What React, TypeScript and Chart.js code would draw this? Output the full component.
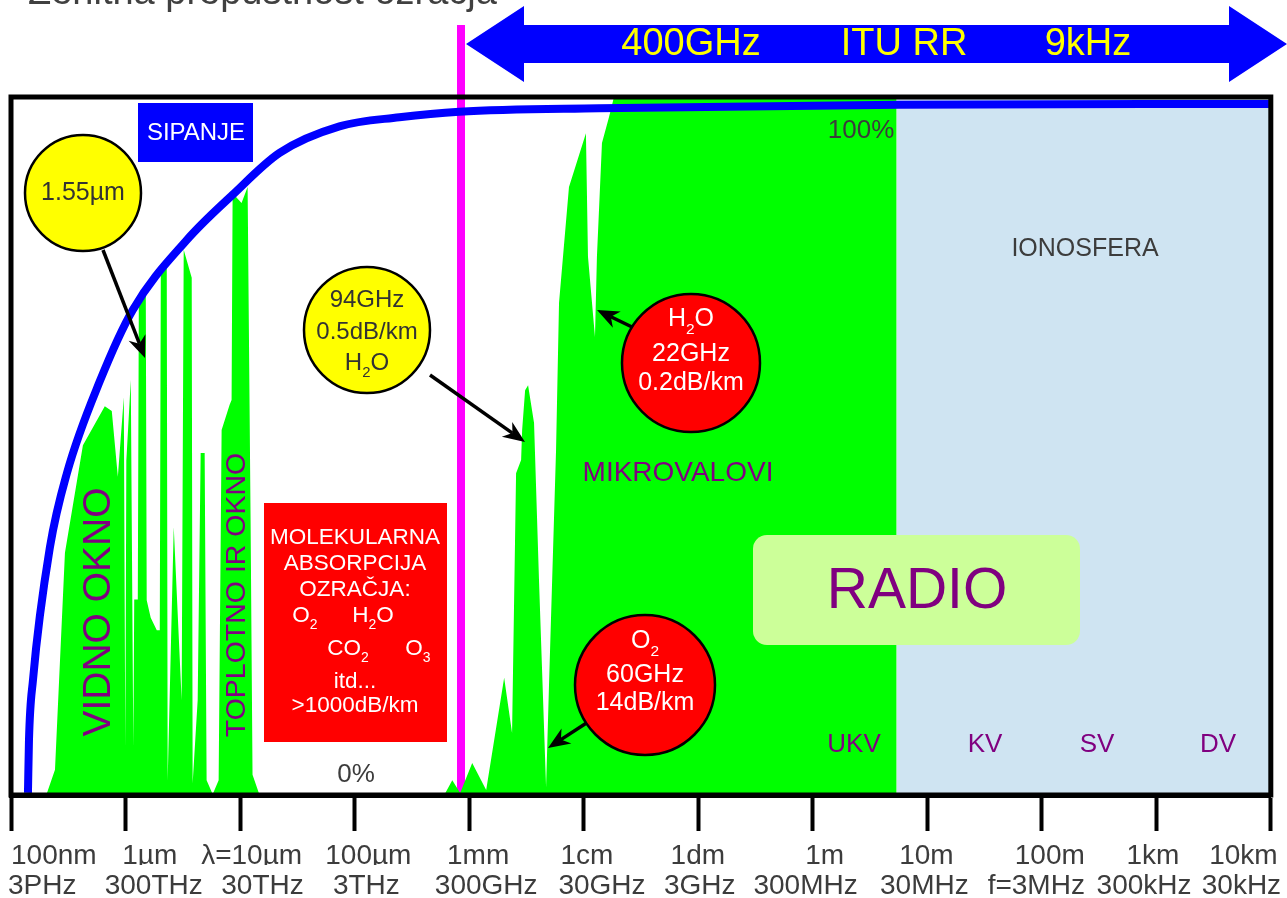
import React, { useEffect, useRef } from 'react';
import { Chart, registerables } from 'chart.js';

Chart.register(...registerables);

const FONT = '"Liberation Sans", Arial, Helvetica, sans-serif';
const PURPLE = '#800080';
const GRAY = '#3c3c3c';

// x axis: decades above 100 nm (0 = 100nm ... 11 = 10km); y axis: zenith transmission in %
const tickValues = [0, 1, 2, 3, 4, 5, 6, 7, 8, 9, 10, 11];
const wavelengthLabels = ['100nm', '1µm', 'λ=10µm', '100µm', '1mm', '1cm', '1dm', '1m', '10m', '100m', '1km', '10km'];
const wavelengthPos = [0, 1.212, 2.101, 3.12, 4.079, 5.029, 5.997, 7.104, 7.993, 9.07, 9.971, 11.06];
const frequencyLabels = ['3PHz', '300THz', '30THz', '3THz', '300GHz', '30GHz', '3GHz', '300MHz', '30MHz', 'f=3MHz', '300kHz', '30kHz'];
const frequencyPos = [-0.026, 1.246, 2.196, 3.103, 4.149, 5.16, 6.014, 6.938, 7.975, 8.952, 9.893, 11.09];

// atmospheric windows (green area)
const windowX = [
  0.253, 0.314, 0.384, 0.471, 0.628, 0.819, 0.880, 0.933,
  0.985, 0.998, 1.007, 1.046, 1.068, 1.076, 1.107, 1.116, 1.177, 1.185,
  1.220, 1.273, 1.299, 1.308, 1.360, 1.368, 1.421, 1.490,
  1.508, 1.578, 1.586, 1.630, 1.656, 1.691, 1.708, 1.761,
  1.813, 1.839, 1.909, 1.926, 1.935, 2.013, 2.066, 2.092,
  2.109, 2.170,
  3.783, 3.853, 3.922, 4.027, 4.149, 4.306, 4.375, 4.410,
  4.454, 4.463, 4.489, 4.515, 4.567, 4.611, 4.672, 4.698,
  4.759, 4.785, 4.872, 5.020, 5.038, 5.099, 5.116, 5.160,
  5.221, 5.265, 7.731, 7.731, 11,
];
const windowY = [
  0, 0.3, 3.6, 34.7, 50.1, 55.7, 55.0, 45.6,
  57.0, 6.9, 47.9, 59.5, 6.9, 28.0, 28.0, 70.5, 71.6, 27.9,
  25.4, 23.6, 23.6, 74.8, 76.2, 2.1, 38.4, 13.6,
  78.1, 74.1, 1.7, 13.6, 49.0, 49.0, 2.1, 0.1,
  2.1, 52.3, 55.9, 56.6, 86.2, 84.8, 87.1, 39.4,
  2.9, 0,
  0, 2.1, 0.3, 4.6, 0.7, 16.8, 8.9, 46.1,
  48.0, 52.3, 58.0, 58.7, 53.3, 30.4, 1.1, 16.0,
  49.4, 70.5, 87.1, 94.8, 77.1, 65.6, 77.1, 93.4,
  97.1, 100, 100, 0, 0,
];

// scattering curve (blue)
const scatterX = [0.148, 0.157, 0.192, 0.34, 0.488, 0.776, 1.063, 1.534, 1.935, 2.345, 2.868, 3.391, 3.914, 5.134, 7.749, 11];
const scatterY = [0.3, 7.9, 16.5, 35.5, 46.1, 59.3, 69.5, 79.5, 86.0, 92.0, 95.8, 97.1, 97.9, 98.4, 98.9, 99.0];

// ionosphere-reflected band
const ionoX = [7.731, 11];
const ionoY = [100, 100];

const toPts = (xs: number[], ys: number[]) => xs.map((x, i) => ({ x, y: ys[i] }));

function txt(ctx: CanvasRenderingContext2D, s: string, x: number, y: number, size: number, color: string, align: CanvasTextAlign = 'center') {
  ctx.font = `${size}px ${FONT}`;
  ctx.fillStyle = color;
  ctx.textAlign = align;
  ctx.textBaseline = 'middle';
  ctx.fillText(s, x, y);
}

// parts: [text, isSubscript]
function rich(ctx: CanvasRenderingContext2D, parts: [string, boolean][], cx: number, cy: number, size: number, color: string) {
  const sub = size * 0.62;
  let w = 0;
  for (const [t, s] of parts) {
    ctx.font = `${s ? sub : size}px ${FONT}`;
    w += ctx.measureText(t).width;
  }
  let x = cx - w / 2;
  ctx.fillStyle = color;
  ctx.textAlign = 'left';
  ctx.textBaseline = 'alphabetic';
  const base = cy + size * 0.36;
  for (const [t, s] of parts) {
    ctx.font = `${s ? sub : size}px ${FONT}`;
    ctx.fillText(t, x, s ? base + size * 0.3 : base);
    x += ctx.measureText(t).width;
  }
}

function circle(ctx: CanvasRenderingContext2D, x: number, y: number, r: number, fill: string) {
  ctx.beginPath();
  ctx.arc(x, y, r, 0, Math.PI * 2);
  ctx.fillStyle = fill;
  ctx.fill();
  ctx.lineWidth = 2.5;
  ctx.strokeStyle = '#000';
  ctx.stroke();
}

function arrow(ctx: CanvasRenderingContext2D, x1: number, y1: number, x2: number, y2: number) {
  const a = Math.atan2(y2 - y1, x2 - x1);
  const c = Math.cos(a), s = Math.sin(a);
  const hl = 22, hw = 9;
  const nx = x2 - hl * 0.7 * c, ny = y2 - hl * 0.7 * s;
  ctx.beginPath();
  ctx.moveTo(x1, y1);
  ctx.lineTo(nx, ny);
  ctx.lineWidth = 3.5;
  ctx.strokeStyle = '#000';
  ctx.stroke();
  const bx = x2 - hl * c, by = y2 - hl * s;
  ctx.beginPath();
  ctx.moveTo(x2, y2);
  ctx.lineTo(bx - hw * s, by + hw * c);
  ctx.lineTo(nx, ny);
  ctx.lineTo(bx + hw * s, by - hw * c);
  ctx.closePath();
  ctx.fillStyle = '#000';
  ctx.fill();
}

const deco = {
  id: 'deco',
  beforeDatasetsDraw(chart: any) {
    const ctx: CanvasRenderingContext2D = chart.ctx;
    const { bottom } = chart.chartArea;
    ctx.save();
    ctx.fillStyle = '#ff00ff';
    ctx.fillRect(457, 25, 8, bottom - 25);
    ctx.restore();
  },
  afterDatasetsDraw(chart: any) {
    const ctx: CanvasRenderingContext2D = chart.ctx;
    const { left, top, right, bottom } = chart.chartArea;
    ctx.save();

    // frame
    ctx.lineWidth = 5;
    ctx.strokeStyle = '#000';
    ctx.strokeRect(left, top, right - left, bottom - top);

    // title (cut off at top)
    ctx.font = `38px ${FONT}`;
    ctx.fillStyle = '#404040';
    ctx.textAlign = 'left';
    ctx.textBaseline = 'alphabetic';
    ctx.fillText('Zenitna prepustnost ozračja', 28, 4);

    // ITU RR double arrow
    ctx.beginPath();
    ctx.moveTo(466, 44);
    ctx.lineTo(524, 6);
    ctx.lineTo(524, 25);
    ctx.lineTo(1229, 25);
    ctx.lineTo(1229, 6);
    ctx.lineTo(1287, 44);
    ctx.lineTo(1229, 82);
    ctx.lineTo(1229, 63);
    ctx.lineTo(524, 63);
    ctx.lineTo(524, 82);
    ctx.closePath();
    ctx.fillStyle = '#0000ff';
    ctx.fill();
    txt(ctx, '400GHz', 691, 45, 38, '#ffff00');
    txt(ctx, 'ITU RR', 904, 45, 38, '#ffff00');
    txt(ctx, '9kHz', 1088, 45, 38, '#ffff00');

    // SIPANJE
    ctx.fillStyle = '#0000ff';
    ctx.fillRect(138, 103, 115, 59);
    txt(ctx, 'SIPANJE', 196, 133, 24, '#ffffff');

    // labels
    txt(ctx, '100%', 861, 131, 26, GRAY);
    txt(ctx, '0%', 356, 775, 26, GRAY);
    txt(ctx, 'IONOSFERA', 1085, 249, 25, GRAY);
    txt(ctx, 'MIKROVALOVI', 678, 473, 28, PURPLE);
    txt(ctx, 'UKV', 854, 745, 26, PURPLE);
    txt(ctx, 'KV', 985, 745, 26, PURPLE);
    txt(ctx, 'SV', 1097, 745, 26, PURPLE);
    txt(ctx, 'DV', 1218, 745, 26, PURPLE);

    // rotated labels
    ctx.save();
    ctx.translate(99, 612);
    ctx.rotate(-Math.PI / 2);
    txt(ctx, 'VIDNO OKNO', 0, 0, 39, PURPLE);
    ctx.restore();
    ctx.save();
    ctx.translate(237, 595);
    ctx.rotate(-Math.PI / 2);
    txt(ctx, 'TOPLOTNO IR OKNO', 0, 0, 28.5, PURPLE);
    ctx.restore();

    // RADIO box
    ctx.beginPath();
    (ctx as any).roundRect(753, 535, 327, 110, 14);
    ctx.fillStyle = '#ccff99';
    ctx.fill();
    txt(ctx, 'RADIO', 917, 592, 57, PURPLE);

    // molecular absorption box
    ctx.fillStyle = '#ff0000';
    ctx.fillRect(264, 503, 183, 239);
    txt(ctx, 'MOLEKULARNA', 355, 538, 22.5, '#ffffff');
    txt(ctx, 'ABSORPCIJA', 355, 564, 22.5, '#ffffff');
    txt(ctx, 'OZRAČJA:', 355, 590, 22.5, '#ffffff');
    rich(ctx, [['O', false], ['2', true]], 305, 614, 22.5, '#ffffff');
    rich(ctx, [['H', false], ['2', true], ['O', false]], 373, 614, 22.5, '#ffffff');
    rich(ctx, [['CO', false], ['2', true]], 348, 647, 22.5, '#ffffff');
    rich(ctx, [['O', false], ['3', true]], 418, 647, 22.5, '#ffffff');
    txt(ctx, 'itd...', 355, 682, 22.5, '#ffffff');
    txt(ctx, '>1000dB/km', 355, 706, 22.5, '#ffffff');

    // arrows
    arrow(ctx, 103, 250, 145, 358);
    arrow(ctx, 430, 375, 525, 442);
    arrow(ctx, 632, 327, 597, 310);
    arrow(ctx, 588, 722, 548, 748);

    // circles
    circle(ctx, 83, 193, 58, '#ffff00');
    txt(ctx, '1.55µm', 83, 193, 25, '#333333');

    circle(ctx, 367, 330, 63, '#ffff00');
    txt(ctx, '94GHz', 367, 300, 24, '#333333');
    txt(ctx, '0.5dB/km', 367, 332, 24, '#333333');
    rich(ctx, [['H', false], ['2', true], ['O', false]], 367, 361, 24, '#333333');

    circle(ctx, 691, 363, 69, '#ff0000');
    rich(ctx, [['H', false], ['2', true], ['O', false]], 691, 317, 25, '#ffffff');
    txt(ctx, '22GHz', 691, 354, 25, '#ffffff');
    txt(ctx, '0.2dB/km', 691, 383, 25, '#ffffff');

    circle(ctx, 645, 685, 70, '#ff0000');
    rich(ctx, [['O', false], ['2', true]], 645, 639, 25, '#ffffff');
    txt(ctx, '60GHz', 645, 675, 25, '#ffffff');
    txt(ctx, '14dB/km', 645, 703, 25, '#ffffff');

    ctx.restore();
  },
};

const labelAxis = (positions: number[], labels: string[], weight: number, height: number) => ({
  type: 'linear',
  position: 'bottom',
  min: 0,
  max: 11,
  weight,
  afterBuildTicks: (s: any) => {
    s.ticks = positions.map((v) => ({ value: v }));
  },
  afterFit: (s: any) => {
    s.height = height;
  },
  ticks: {
    autoSkip: false,
    maxRotation: 0,
    align: 'inner',
    padding: 6,
    color: GRAY,
    font: { family: FONT, size: 28, lineHeight: 1.1 },
    callback: (_v: any, i: number) => labels[i],
  },
  grid: { display: false, drawTicks: false, drawOnChartArea: false },
  border: { display: false },
});

export default function App() {
  const ref = useRef<HTMLCanvasElement>(null);
  useEffect(() => {
    const canvas = ref.current;
    if (!canvas) return;
    const chart = new Chart(canvas, {
      type: 'line',
      data: {
        datasets: [
          {
            label: 'Sipanje',
            data: toPts(scatterX, scatterY),
            borderColor: '#0000ff',
            borderWidth: 8,
            pointRadius: 0,
            fill: false,
            cubicInterpolationMode: 'monotone',
            xAxisID: 'x',
            order: 0,
          },
          {
            label: 'Prepustnost',
            data: toPts(windowX, windowY),
            borderColor: '#00ff00',
            backgroundColor: '#00ff00',
            borderWidth: 0,
            pointRadius: 0,
            fill: 'origin',
            tension: 0,
            xAxisID: 'x',
            order: 1,
          },
          {
            label: 'Ionosfera',
            data: toPts(ionoX, ionoY),
            borderColor: '#cfe4f2',
            backgroundColor: '#cfe4f2',
            borderWidth: 0,
            pointRadius: 0,
            fill: 'origin',
            xAxisID: 'x',
            order: 2,
          },
        ] as any,
      },
      options: {
        responsive: false,
        animation: false,
        devicePixelRatio: 1,
        layout: { padding: { left: 11, right: 14, top: 97, bottom: 0 } },
        plugins: {
          legend: { display: false },
          tooltip: { enabled: false },
          title: { display: false },
        },
        scales: {
          x: {
            type: 'linear',
            position: 'bottom',
            min: 0,
            max: 11,
            weight: 0,
            afterBuildTicks: (s: any) => {
              s.ticks = tickValues.map((v) => ({ value: v }));
            },
            afterFit: (s: any) => {
              s.height = 40;
            },
            ticks: { display: false, autoSkip: false },
            grid: { drawOnChartArea: false, drawTicks: true, tickLength: 36, tickWidth: 4, tickColor: '#000' },
            border: { display: true, color: '#000', width: 5 },
          },
          xw: labelAxis(wavelengthPos, wavelengthLabels, 1, 30),
          xf: labelAxis(frequencyPos, frequencyLabels, 2, 33),
          y: { type: 'linear', min: 0, max: 100, display: false },
        },
      } as any,
      plugins: [deco],
    });
    return () => chart.destroy();
  }, []);

  return (
    <div style={{ position: 'fixed', left: 0, top: 0, width: 1287, height: 898, background: '#fff' }}>
      <canvas ref={ref} width={1287} height={898} style={{ display: 'block' }} />
    </div>
  );
}
